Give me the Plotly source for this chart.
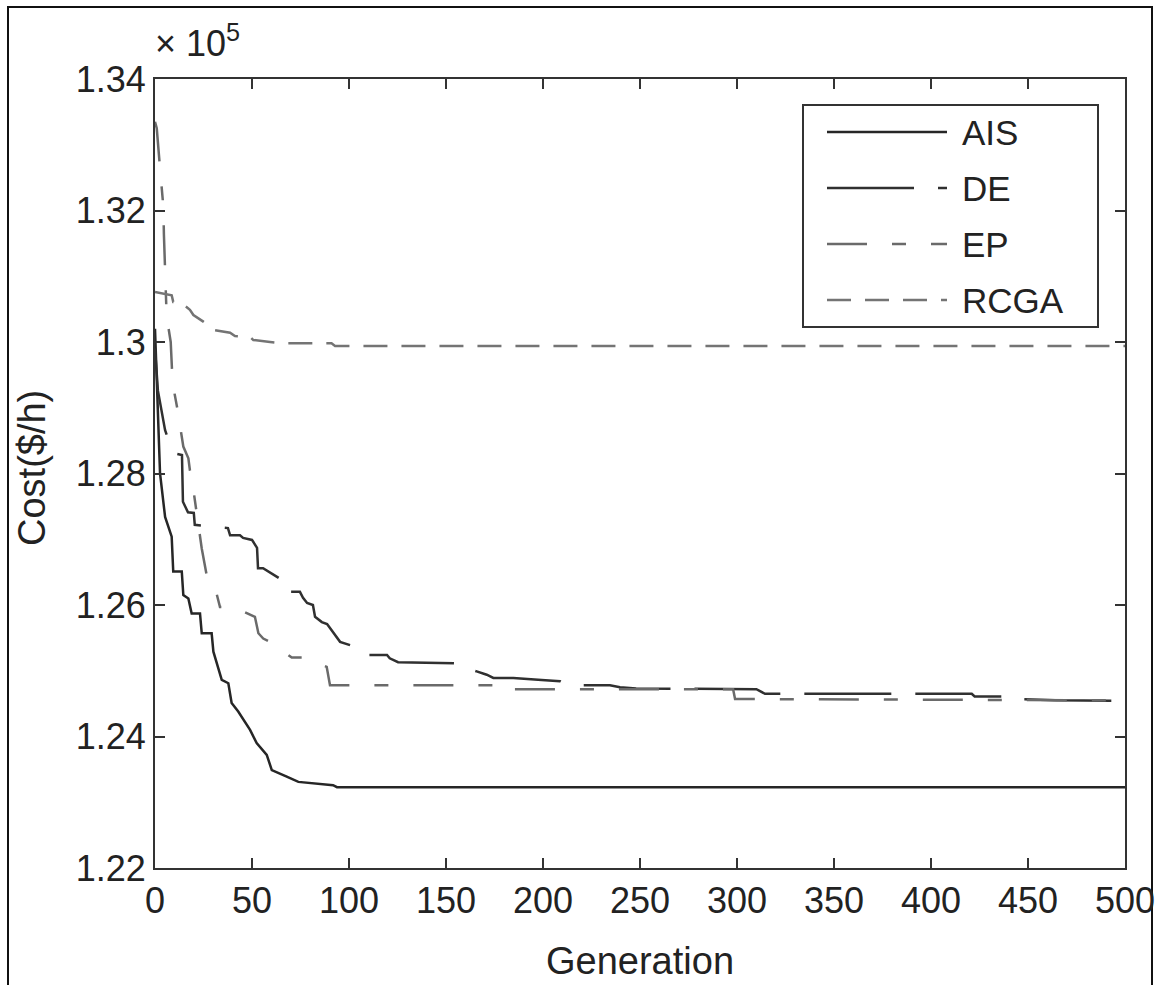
import plotly.graph_objects as go

# ---------------- data (cost in units of 1e5 $/h) ----------------
ais_gen = [0, 1, 2.6, 5.2, 8.6, 9.4, 13.8, 14.6, 17.2, 18.9, 23.2, 24.1, 29.2, 30.1, 31.8,
           34.4, 37.8, 39.5, 42.9, 46.4, 49.0, 52.4, 57.6, 60.2, 63.6, 67.9, 73.9, 91.8, 93.8, 500]
ais_cost = [1.3020, 1.2930, 1.2800, 1.2734, 1.2704, 1.2651, 1.2651, 1.2615, 1.2610, 1.2587,
            1.2587, 1.2557, 1.2557, 1.2529, 1.2511, 1.2486, 1.2481, 1.2451, 1.2438, 1.2423,
            1.2410, 1.2390, 1.2372, 1.2349, 1.2345, 1.2339, 1.2331, 1.2326, 1.2323, 1.2323]

de_gen = [0, 1.5, 5.2, 9.3, 13.9, 14.4, 17.0, 20.0, 20.5, 32.5, 37.6, 38.7, 43.8, 45.4, 50.0,
          52.6, 53.1, 55.7, 65.5, 66.0, 74.7, 76.3, 78.4, 81.4, 82.5, 86.0, 88.7, 95.4, 100.5,
          104.6, 106.7, 119.6, 121.0, 125.3, 158.8, 160.7, 165.8, 171.0, 174.4, 184.7, 199.3,
          208.8, 212.2, 234.5, 239.7, 248.0, 310.0, 314.4, 421.0, 422.5, 442.4, 444.0, 464.0, 500]
de_cost = [1.2990, 1.2926, 1.2866, 1.2831, 1.2828, 1.2757, 1.2741, 1.2740, 1.2722, 1.2719,
           1.2717, 1.2706, 1.2706, 1.2702, 1.2699, 1.2687, 1.2656, 1.2656, 1.2638, 1.2620,
           1.2620, 1.2611, 1.2603, 1.2600, 1.2582, 1.2574, 1.2571, 1.2544, 1.2539, 1.2535,
           1.2524, 1.2524, 1.2519, 1.2513, 1.2511, 1.2504, 1.2499, 1.2494, 1.2489, 1.2489,
           1.2486, 1.2484, 1.2478, 1.2478, 1.2475, 1.2473, 1.2472, 1.2465, 1.2465, 1.2461,
           1.2461, 1.2457, 1.2455, 1.2454]

ep_gen = [0, 0.9, 2.6, 3.8, 4.3, 4.6, 5.2, 5.7, 6.0, 8.1, 9.1, 11.5, 12.5, 14.6, 17.2, 18.0,
          19.4, 24.1, 26.6, 30.1, 30.4, 33.5, 40.4, 51.5, 53.3, 55.8, 61.0, 70.5, 77.3, 88.5,
          90.2, 184.0, 185.0, 298.0, 299.0, 460.0, 500]
ep_cost = [1.3335, 1.3325, 1.3264, 1.3226, 1.3206, 1.3163, 1.3099, 1.3059, 1.3039, 1.3000,
           1.2937, 1.2899, 1.2879, 1.2841, 1.2823, 1.2805, 1.2783, 1.2686, 1.2646, 1.2638,
           1.2633, 1.2597, 1.2597, 1.2582, 1.2557, 1.2549, 1.2541, 1.2520, 1.2520, 1.2506,
           1.2478, 1.2478, 1.2472, 1.2472, 1.2457, 1.2456, 1.2455]

rcga_gen = [0, 3.4, 8.6, 9.4, 12.9, 18.0, 19.8, 24.9, 30.9, 38.7, 41.2, 49.0, 50.7, 59.3,
            66.0, 86.8, 91.0, 92.8, 500]
rcga_cost = [1.3076, 1.3074, 1.3071, 1.3061, 1.3061, 1.3049, 1.3041, 1.3031, 1.3018, 1.3014,
             1.3009, 1.3008, 1.3003, 1.3000, 1.2998, 1.2998, 1.2998, 1.2994, 1.2994]

series_names = ["AIS", "DE", "EP", "RCGA"]
x_ticks = [0, 50, 100, 150, 200, 250, 300, 350, 400, 450, 500]
y_ticks = [1.22, 1.24, 1.26, 1.28, 1.30, 1.32, 1.34]
y_tick_labels = ["1.22", "1.24", "1.26", "1.28", "1.3", "1.32", "1.34"]

# ---------------- figure ----------------
FONT = "Liberation Sans, Arial, sans-serif"
W, H = 1160, 985
L, R, T, B = 155, 35, 79, 117
PW, PH = W - L - R, H - T - B

def px_x(p):
    return (p - L) / PW

def px_y(p):
    return (H - B - p) / PH

styles = [
    dict(color="#262626", dash="solid"),
    dict(color="#303030", dash="87px,24px"),
    dict(color="#6a6a6a", dash="40px,25px,14px,25px"),
    dict(color="#747474", dash="24px,14px"),
]
xs = [ais_gen, de_gen, ep_gen, rcga_gen]
ys = [ais_cost, de_cost, ep_cost, rcga_cost]

fig = go.Figure()
for name, x, y, st in zip(series_names, xs, ys, styles):
    fig.add_trace(go.Scatter(x=x, y=y, mode="lines", name=name, showlegend=False,
                             line=dict(color=st["color"], dash=st["dash"], width=2.5)))

axis_common = dict(showline=True, linecolor="#333333", linewidth=2, mirror="ticks",
                   ticks="inside", ticklen=10, tickwidth=2, tickcolor="#333333",
                   showgrid=False, zeroline=False, automargin=False,
                   tickfont=dict(family=FONT, size=36, color="#222222"))

fig.update_layout(
    width=W, height=H,
    margin=dict(l=L, r=R, t=T, b=B),
    paper_bgcolor="white", plot_bgcolor="white",
    font=dict(family=FONT, color="#222222"),
    xaxis=dict(range=[0, 500], tickvals=x_ticks, ticktext=[str(v) for v in x_ticks],
               **axis_common),
    yaxis=dict(range=[1.22, 1.34], tickvals=y_ticks, ticktext=y_tick_labels,
               **axis_common),
    showlegend=False,
)

# axis titles
fig.add_annotation(text="Generation", xref="paper", yref="paper",
                   x=px_x(640), y=px_y(961), xanchor="center", yanchor="middle",
                   showarrow=False, font=dict(family=FONT, size=38, color="#222222"))
fig.add_annotation(text="Cost($/h)", xref="paper", yref="paper", textangle=-90,
                   x=px_x(32), y=px_y(468), xanchor="center", yanchor="middle",
                   showarrow=False, font=dict(family=FONT, size=38, color="#222222"))

# exponent label
fig.add_annotation(text="× 10<sup>5</sup>", xref="paper", yref="paper",
                   x=px_x(153), y=px_y(66), xanchor="left", yanchor="bottom", showarrow=False,
                   font=dict(family=FONT, size=36, color="#222222"))

# legend box (drawn manually to match the long line samples)
fig.add_shape(type="rect", xref="paper", yref="paper",
              x0=px_x(803), x1=px_x(1098), y0=px_y(327), y1=px_y(105),
              line=dict(color="#333333", width=2), fillcolor="white")
row_y = [132, 188, 244, 300]
for name, st, ry in zip(series_names, styles, row_y):
    fig.add_shape(type="line", xref="paper", yref="paper",
                  x0=px_x(827), x1=px_x(947), y0=px_y(ry), y1=px_y(ry),
                  line=dict(color=st["color"], dash=st["dash"], width=2.5))
    fig.add_annotation(text=name, xref="paper", yref="paper",
                       x=px_x(960), y=px_y(ry), xanchor="left", yanchor="middle",
                       showarrow=False, font=dict(family=FONT, size=35, color="#222222"))

# outer figure frame
fig.add_shape(type="rect", xref="paper", yref="paper",
              x0=px_x(8), x1=px_x(1152), y0=px_y(1000), y1=px_y(7),
              line=dict(color="#111111", width=2), layer="below")

fig.write_html("out.html")
